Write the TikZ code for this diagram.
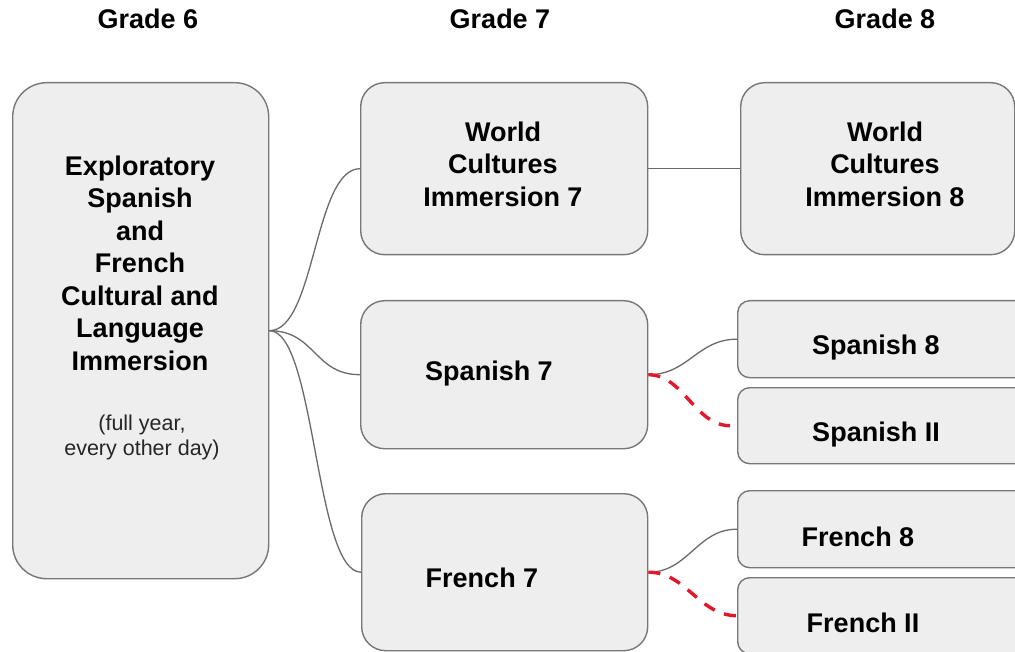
\documentclass[tikz,border=0pt]{standalone}
\usepackage{fontspec}
\setmainfont{Liberation Sans}
\definecolor{boxfill}{HTML}{EEEEEE}
\definecolor{boxline}{HTML}{777777}
\definecolor{linkc}{HTML}{6A6A6A}
\definecolor{redc}{HTML}{E3172B}
\begin{document}
\begin{tikzpicture}[x=1pt,y=-1pt,
  box/.style={draw=boxline,fill=boxfill,line width=1.4pt,inner sep=0pt,anchor=north west},
  big/.style={font=\fontsize{27}{32.5}\selectfont\bfseries,align=center,inner sep=0pt},
  small/.style={font=\fontsize{21.5}{25}\selectfont,align=center,inner sep=0pt,text=black!85},
  link/.style={draw=linkc,line width=1.3pt},
  curve/.style={out=0,in=180,out distance=46pt,in distance=46pt},
  alt/.style={draw=redc,line width=3.4pt,dash pattern=on 12pt off 10pt}]
\useasboundingbox (0,0) rectangle (1015,652);
\clip (0,0) rectangle (1015,652);
% headers
\node[big,anchor=base] (h6) at (148,29) {Grade 6};
\node[big,anchor=base] (h7) at (500,29) {Grade 7};
\node[big,anchor=base] (h8) at (885,29) {Grade 8};
% boxes
\node[box,rounded corners=34pt,minimum width=256pt,minimum height=496pt] (g6) at (12,82) {};
\node[box,rounded corners=24pt,minimum width=287pt,minimum height=172pt] (wc7) at (360,82) {};
\node[box,rounded corners=24pt,minimum width=287pt,minimum height=148pt] (sp7) at (360,300) {};
\node[box,rounded corners=24pt,minimum width=286pt,minimum height=157pt] (fr7) at (361,493) {};
\node[box,rounded corners=24pt,minimum width=274pt,minimum height=172pt] (wc8) at (740,82) {};
\node[box,rounded corners=12pt,minimum width=300pt,minimum height=77pt] (sp8) at (737,300) {};
\node[box,rounded corners=12pt,minimum width=300pt,minimum height=76pt] (sp2) at (737,387) {};
\node[box,rounded corners=12pt,minimum width=300pt,minimum height=77pt] (fr8) at (737,490) {};
\node[box,rounded corners=12pt,minimum width=300pt,minimum height=76pt] (fr2) at (737,577) {};
% texts
\node[big] (g6t) at (140,263) {Exploratory\\Spanish\\and\\French\\Cultural and\\Language\\Immersion};
\node[small] (g6s) at (142,437) {(full year,\\every other day)};
\node[big] (wc7t) at (503,164) {World\\Cultures\\Immersion 7};
\node[big] (wc8t) at (885,164) {World\\Cultures\\Immersion 8};
\node[big,anchor=base] (sp7t) at (489,381) {Spanish 7};
\node[big,anchor=base] (fr7t) at (482,587) {French 7};
\node[big,anchor=base] (sp8t) at (876,355) {Spanish 8};
\node[big,anchor=base] (sp2t) at (876,441) {Spanish II};
\node[big,anchor=base] (fr8t) at (858,546) {French 8};
\node[big,anchor=base] (fr2t) at (863,632) {French II};
% connectors
\coordinate (sp2in) at ([xshift=-7pt]sp2.west);
\draw[link] (g6.east) to[curve] (wc7.west);
\draw[link] (g6.east) to[curve] (sp7.west);
\draw[link] (g6.east) to[curve] (fr7.west);
\draw[link] (wc7.east) -- (wc8.west);
\draw[link] (sp7.east) to[out=0,in=180,out distance=40pt,in distance=40pt] (sp8.west);
\draw[link] (fr7.east) to[out=0,in=180,out distance=40pt,in distance=40pt] (fr8.west);
\draw[alt] (sp7.east) to[out=0,in=180,out distance=35pt,in distance=35pt] (sp2in);
\draw[alt] (fr7.east) to[out=0,in=180,out distance=38pt,in distance=38pt] (fr2.west);
\end{tikzpicture}
\end{document}
